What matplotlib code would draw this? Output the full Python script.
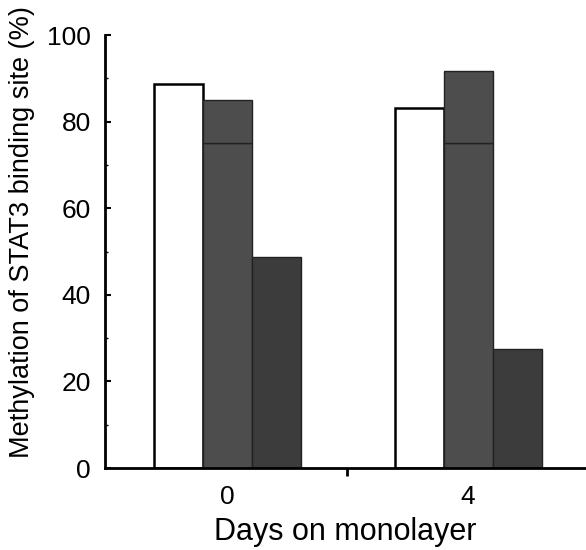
import numpy as np
import matplotlib.pyplot as plt
from matplotlib.ticker import MultipleLocator

plt.rcParams['font.family'] = ['Liberation Sans', 'DejaVu Sans']

days = ['0', '4']
white_vals = [88.7, 83.1]
gray_vals = [85.0, 91.7]
gray_split = [75.0, 75.0]
dark_vals = [48.7, 27.5]

group_pos = np.array([0.0, 4.9])
width = 1.0

fig = plt.figure(figsize=(5.86, 5.5), dpi=100)
ax = fig.add_axes([0.179, 0.149, 0.821, 0.787])

ax.bar(group_pos - width, white_vals, width, color='white',
       edgecolor='black', linewidth=1.8)
# middle bar with the faint division line
ax.bar(group_pos, gray_split, width, color='#4d4d4d',
       edgecolor='#222222', linewidth=1.0)
ax.bar(group_pos, np.array(gray_vals) - np.array(gray_split), width,
       bottom=gray_split, color='#4d4d4d', edgecolor='#222222', linewidth=1.0)
ax.bar(group_pos + width, dark_vals, width, color='#3c3c3c',
       edgecolor='#222222', linewidth=1.0)

ax.set_xlim(-2.5, 7.3)
ax.set_ylim(0, 100)
ax.set_xticks(group_pos)
ax.set_xticklabels(days)
ax.set_xticks([2.43], minor=True)
ax.tick_params(axis='x', which='major', length=0, pad=12, labelsize=19)
ax.tick_params(axis='x', which='minor', length=6, width=2, direction='out')

ax.set_yticks([0, 20, 40, 60, 80, 100])
ax.yaxis.set_minor_locator(MultipleLocator(10))
ax.tick_params(axis='y', which='major', direction='in', length=4, width=1.5,
               labelsize=19, pad=10)
ax.tick_params(axis='y', which='minor', direction='in', length=2, width=1)

for s in ['top', 'right']:
    ax.spines[s].set_visible(False)
for s in ['left', 'bottom']:
    ax.spines[s].set_linewidth(2)

ax.set_ylabel('Methylation of STAT3 binding site (%)', fontsize=19.5)
ax.yaxis.set_label_coords(-0.145, 0.545)
ax.set_xlabel('Days on monolayer', fontsize=22, labelpad=6)

plt.savefig('out.png', dpi=100)
